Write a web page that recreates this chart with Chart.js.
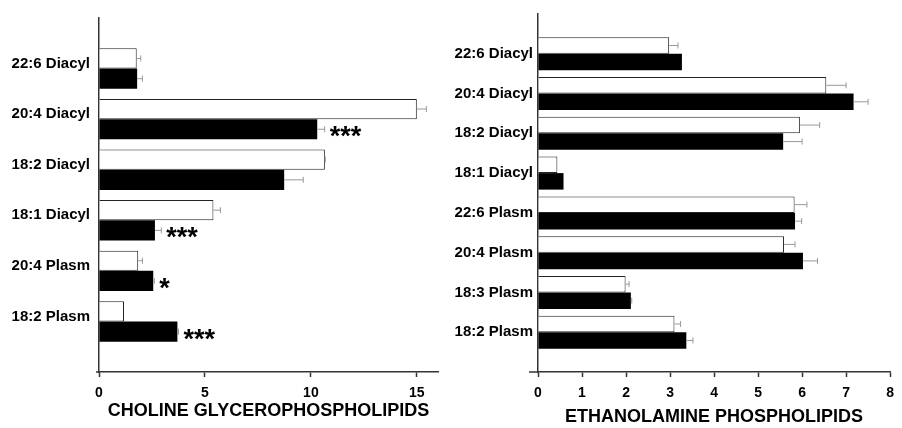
<!DOCTYPE html>
<html>
<head>
<meta charset="utf-8">
<script src="https://cdn.jsdelivr.net/npm/chart.js@4"></script>
<style>
  body { margin: 0; background: #fff; }
  #wrap { position: relative; width: 902px; height: 428px; }
  .box { position: absolute; top: 0; height: 428px; }
</style>
</head>
<body>
<div id="wrap">
  <div class="box" style="left:0;width:450px"><canvas id="cholineChart"></canvas></div>
  <div class="box" style="left:450px;width:452px"><canvas id="ethanolChart"></canvas></div>
</div>
<script>
// Datos del panel izquierdo (colina)
const cholineLabels = ["22:6 Diacyl", "20:4 Diacyl", "18:2 Diacyl", "18:1 Diacyl", "20:4 Plasm", "18:2 Plasm"];
const cholineWhite = [1.78, 15.0, 10.66, 5.4, 1.85, 1.18];
const cholineBlack = [1.8, 10.3, 8.74, 2.64, 2.56, 3.7];
const cholineWhiteErr = [0.19, 0.45, 0.02, 0.33, 0.2, 0];
const cholineBlackErr = [0.25, 0.35, 0.9, 0.3, 0.05, 0.05];
const cholineSig = ["", "***", "", "***", "*", "***"];
const cholineTicks = [0, 5, 10, 15];

// Datos del panel derecho (etanolamina)
const ethanolLabels = ["22:6 Diacyl", "20:4 Diacyl", "18:2 Diacyl", "18:1 Diacyl", "22:6 Plasm", "20:4 Plasm", "18:3 Plasm", "18:2 Plasm"];
const ethanolWhite = [2.98, 6.55, 5.95, 0.44, 5.83, 5.59, 1.99, 3.1];
const ethanolBlack = [3.27, 7.17, 5.57, 0.58, 5.84, 6.02, 2.11, 3.37];
const ethanolWhiteErr = [0.2, 0.45, 0.45, 0, 0.28, 0.25, 0.08, 0.14];
const ethanolBlackErr = [0, 0.33, 0.43, 0, 0.15, 0.33, 0.02, 0.15];
const ethanolSig = ["", "", "", "", "", "", "", ""];
const ethanolTicks = [0, 1, 2, 3, 4, 5, 6, 7, 8];

const FONT = "'Liberation Sans', Arial, sans-serif";

// Barras de error y asteriscos
const extrasPlugin = {
    id: 'extras',
    afterDatasetsDraw(chart, args, opts) {
        const ctx = chart.ctx;
        const x = chart.scales.x;
        ctx.save();
        ctx.strokeStyle = '#999';
        ctx.lineWidth = 1;
        chart.data.datasets.forEach((ds, d) => {
            const meta = chart.getDatasetMeta(d);
            meta.data.forEach((bar, i) => {
                const err = opts.errors[d][i];
                if (!err) return;
                const v = ds.data[i].x;
                const x0 = x.getPixelForValue(v);
                const x1 = x.getPixelForValue(v + err);
                ctx.beginPath();
                ctx.moveTo(x0, bar.y);
                ctx.lineTo(x1, bar.y);
                ctx.moveTo(x1, bar.y - 3);
                ctx.lineTo(x1, bar.y + 3);
                ctx.stroke();
            });
        });
        // asteriscos sobre la serie negra
        const meta = chart.getDatasetMeta(1);
        ctx.fillStyle = '#000';
        ctx.font = 'bold 27px ' + FONT;
        ctx.textBaseline = 'alphabetic';
        opts.sig.forEach((s, i) => {
            if (!s) return;
            const bar = meta.data[i];
            const v = chart.data.datasets[1].data[i].x + opts.errors[1][i];
            ctx.fillText(s, x.getPixelForValue(v) + 5, bar.y + 16);
        });
        // pequeña prolongación del eje x hacia la izquierda
        const a = chart.chartArea;
        ctx.strokeStyle = '#333';
        ctx.lineWidth = 1.5;
        ctx.beginPath();
        ctx.moveTo(a.left - opts.ext, a.bottom);
        ctx.lineTo(a.left, a.bottom);
        ctx.stroke();
        ctx.restore();
    }
};

function makeChart(id, labels, white, black, errW, errB, sig, ticks, xMax, title, cfg) {
    const ctx = document.getElementById(id).getContext('2d');
    return new Chart(ctx, {
        type: 'bar',
        data: {
            datasets: [{
                data: white.map((v, i) => ({ x: v, y: i })),
                backgroundColor: '#fff',
                borderColor: '#222',
                borderWidth: 1,
                categoryPercentage: cfg.cat,
                barPercentage: 1
            }, {
                data: black.map((v, i) => ({ x: v, y: i })),
                backgroundColor: '#000',
                borderWidth: 0,
                categoryPercentage: cfg.cat,
                barPercentage: 1
            }]
        },
        options: {
            indexAxis: 'y',
            responsive: true,
            maintainAspectRatio: false,
            animation: false,
            layout: { padding: { top: cfg.top, right: cfg.right, left: 0, bottom: 0 } },
            plugins: {
                legend: { display: false },
                tooltip: { enabled: false },
                extras: { errors: [errW, errB], sig: sig, ext: cfg.ext }
            },
            scales: {
                x: {
                    type: 'linear',
                    min: 0,
                    max: xMax,
                    afterBuildTicks: axis => { axis.ticks = ticks.map(v => ({ value: v })); },
                    afterFit: axis => { axis.height = 56; },
                    grid: { drawOnChartArea: false, drawTicks: true, tickLength: 5, tickColor: '#333', tickWidth: 1.5 },
                    border: { display: true, color: '#333', width: 1.5 },
                    ticks: { color: '#000', font: { family: FONT, size: 14, weight: 'bold' }, padding: 8, maxRotation: 0 },
                    title: {
                        display: true,
                        text: title,
                        color: '#000',
                        font: { family: FONT, size: 18, weight: 'bold' },
                        padding: { top: 0, bottom: cfg.titleBottom }
                    }
                },
                y: {
                    type: 'linear',
                    min: -1,
                    max: labels.length,
                    reverse: true,
                    offset: false,
                    afterBuildTicks: axis => { axis.ticks = labels.map((l, i) => ({ value: i })); },
                    afterFit: axis => { axis.width = cfg.yWidth; },
                    grid: { display: false, drawTicks: false },
                    border: { display: true, color: '#333', width: 1.5 },
                    ticks: {
                        autoSkip: false,
                        color: '#000',
                        font: { family: FONT, size: 15, weight: 'bold' },
                        padding: cfg.labelPad,
                        labelOffset: cfg.labelOffset,
                        callback: v => labels[v]
                    }
                }
            }
        },
        plugins: [extrasPlugin]
    });
}

makeChart('cholineChart', cholineLabels, cholineWhite, cholineBlack, cholineWhiteErr, cholineBlackErr,
    cholineSig, cholineTicks, 16, 'CHOLINE GLYCEROPHOSPHOLIPIDS',
    { cat: 0.8, top: 16, right: 12, yWidth: 99, labelPad: 9, labelOffset: -5, titleBottom: 6, ext: 3 });

makeChart('ethanolChart', ethanolLabels, ethanolWhite, ethanolBlack, ethanolWhiteErr, ethanolBlackErr,
    ethanolSig, ethanolTicks, 8, 'ETHANOLAMINE PHOSPHOLIPIDS',
    { cat: 0.83, top: 12, right: 5, yWidth: 88, labelPad: 5, labelOffset: 0, titleBottom: 0, ext: 9 });
</script>
</body>
</html>
